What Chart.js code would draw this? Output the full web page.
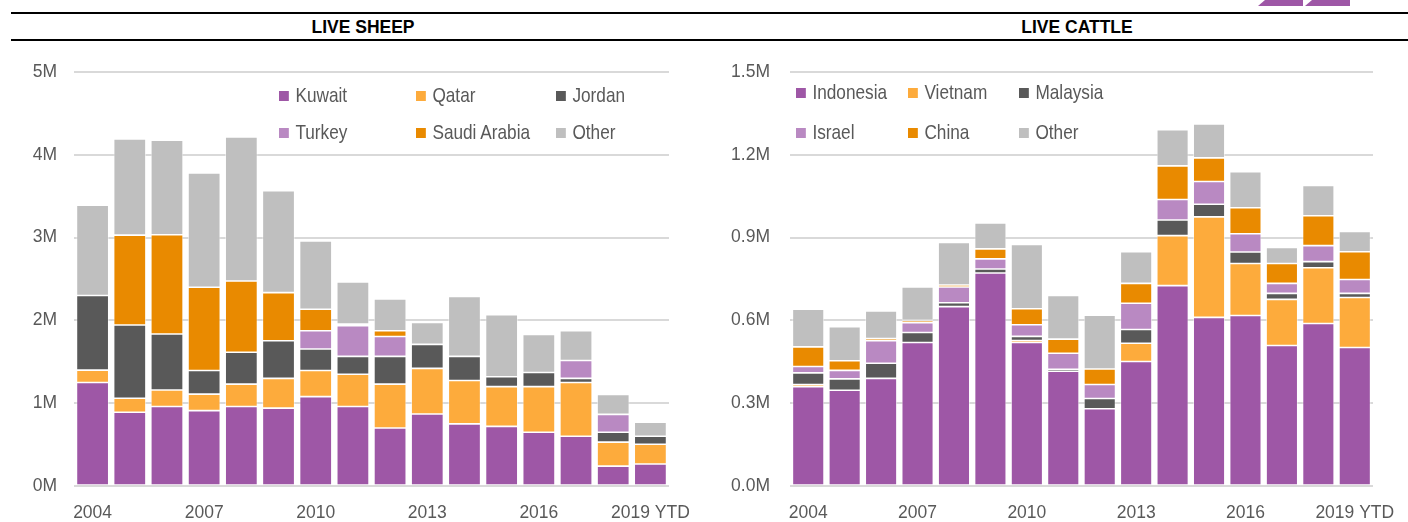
<!DOCTYPE html>
<html>
<head>
<meta charset="utf-8">
<script src="https://cdn.jsdelivr.net/npm/chart.js@4.4.1/dist/chart.umd.min.js"></script>
<style>
  body { margin: 0; background: #fff; width: 1408px; height: 522px; overflow: hidden; position: relative;
         font-family: 'Liberation Sans', Arial, sans-serif; }
  .rule { position: absolute; left: 11px; right: 0; height: 2px; background: #000; }
  .title { position: absolute; top: 17px; font-weight: bold; font-size: 17.5px; color: #000; text-align: center; width: 300px; }
  .logo { position: absolute; top: 0; height: 6px; width: 45px; background: #9e57a6;
          clip-path: polygon(7px 0, 45px 0, 45px 6px, 0 6px); }
  .box { position: absolute; top: 0; width: 704px; height: 522px; }
  .legend { position: absolute; font-size: 21px; color: #595959; }
  .legend .item { position: absolute; white-space: nowrap; line-height: 24px; transform: scaleX(0.82); transform-origin: 0 50%; }
  .legend .sq { display: inline-block; width: 12px; height: 10px; margin-right: 8px; vertical-align: 1px; }
</style>
</head>
<body>
<div class="logo" style="left:1258px"></div>
<div class="logo" style="left:1305px"></div>
<div class="rule" style="top:12px"></div>
<div class="rule" style="top:39px"></div>
<div class="title" style="left:213px">LIVE SHEEP</div>
<div class="title" style="left:927px">LIVE CATTLE</div>

<div class="box" style="left:0"><canvas id="sheepChart" width="704" height="522"></canvas></div>
<div class="box" style="left:704px"><canvas id="cattleChart" width="704" height="522"></canvas></div>
<div class="legend" id="sheepLegend"></div>
<div class="legend" id="cattleLegend"></div>

<script>
const years = ['2004', '2005', '2006', '2007', '2008', '2009', '2010', '2011', '2012', '2013', '2014', '2015', '2016', '2017', '2018', '2019 YTD'];

// live sheep, millions of head
const kuwait = [1.25, 0.89, 0.96, 0.91, 0.96, 0.94, 1.08, 0.96, 0.70, 0.87, 0.75, 0.72, 0.65, 0.60, 0.24, 0.265];
const qatar = [0.15, 0.17, 0.20, 0.20, 0.27, 0.36, 0.315, 0.39, 0.53, 0.55, 0.525, 0.48, 0.55, 0.65, 0.29, 0.24];
const jordan = [0.90, 0.885, 0.675, 0.285, 0.385, 0.455, 0.26, 0.215, 0.335, 0.29, 0.29, 0.12, 0.17, 0.05, 0.12, 0.095];
const turkey = [0, 0, 0, 0, 0, 0, 0.22, 0.37, 0.24, 0, 0, 0, 0, 0.215, 0.215, 0];
const saudi = [0, 1.085, 1.20, 1.005, 0.86, 0.58, 0.26, 0.02, 0.07, 0, 0, 0, 0, 0, 0, 0];
const sheepOther = [1.09, 1.16, 1.14, 1.38, 1.74, 1.23, 0.825, 0.51, 0.385, 0.265, 0.725, 0.75, 0.46, 0.36, 0.24, 0.17];

// live cattle, millions of head
const indonesia = [0.36, 0.347, 0.39, 0.52, 0.65, 0.772, 0.52, 0.416, 0.28, 0.451, 0.726, 0.611, 0.618, 0.509, 0.589, 0.502];
const vietnam = [0.008, 0, 0, 0, 0, 0, 0.007, 0, 0, 0.066, 0.181, 0.364, 0.188, 0.167, 0.202, 0.181];
const malaysia = [0.042, 0.041, 0.055, 0.036, 0.014, 0.014, 0.015, 0.007, 0.037, 0.05, 0.057, 0.046, 0.042, 0.022, 0.022, 0.015];
const israel = [0.023, 0.031, 0.081, 0.036, 0.057, 0.037, 0.042, 0.058, 0.051, 0.095, 0.074, 0.082, 0.066, 0.036, 0.058, 0.05];
const china = [0.071, 0.035, 0.008, 0.008, 0.007, 0.036, 0.058, 0.051, 0.056, 0.072, 0.122, 0.086, 0.094, 0.072, 0.108, 0.101];
const cattleOther = [0.137, 0.123, 0.10, 0.121, 0.154, 0.094, 0.233, 0.158, 0.195, 0.115, 0.131, 0.123, 0.131, 0.058, 0.11, 0.073];

const colors = ['#9e57a6', '#fdab3c', '#595959', '#b989c2', '#e98a00', '#bfbfbf'];
const FONT = "'Liberation Sans', Arial, sans-serif";

function makeChart(id, names, series, maxY, step, fmt, yAxisWidth, labelPad) {
    const datasets = names.map((name, i) => ({
        label: name,
        data: series[i],
        backgroundColor: colors[i],
        borderColor: 'rgba(255,255,255,0.7)',
        borderWidth: 0.8,
        borderSkipped: false,
        categoryPercentage: 1,
        barPercentage: 0.87
    }));
    return new Chart(document.getElementById(id), {
        type: 'bar',
        data: { labels: years, datasets: datasets },
        options: {
            responsive: false,
            animation: false,
            layout: { padding: { top: 72, right: 35, bottom: 0, left: 0 } },
            plugins: { legend: { display: false }, tooltip: { enabled: false } },
            scales: {
                x: {
                    stacked: true,
                    grid: { display: false },
                    border: { display: false },
                    ticks: {
                        autoSkip: false, maxRotation: 0, color: '#595959', padding: 9,
                        font: { family: FONT, size: 17.5 },
                        callback: (v, i) => i % 3 === 0 ? years[i] : ''
                    },
                    afterFit: s => { s.height = 36; }
                },
                y: {
                    stacked: true, min: 0, max: maxY,
                    grid: { color: '#d9d9d9', lineWidth: 2, drawTicks: false },
                    border: { display: false },
                    ticks: {
                        stepSize: step, color: '#595959', padding: labelPad,
                        font: { family: FONT, size: 17.5 },
                        callback: v => fmt(v)
                    },
                    afterFit: s => { s.width = yAxisWidth; }
                }
            }
        }
    });
}

function makeLegend(id, names, left, cols, rows) {
    const el = document.getElementById(id);
    names.forEach((name, i) => {
        const item = document.createElement('div');
        item.className = 'item';
        item.style.left = (left + cols[i % 3]) + 'px';
        item.style.top = (rows[Math.floor(i / 3)] - 12) + 'px';
        item.innerHTML = `<span class="sq" style="background:${colors[i]}"></span>${name}`;
        el.appendChild(item);
    });
}

const sheepNames = ['Kuwait', 'Qatar', 'Jordan', 'Turkey', 'Saudi Arabia', 'Other'];
const cattleNames = ['Indonesia', 'Vietnam', 'Malaysia', 'Israel', 'China', 'Other'];

makeChart('sheepChart', sheepNames, [kuwait, qatar, jordan, turkey, saudi, sheepOther], 5, 1, v => v + 'M', 74, 17);
makeChart('cattleChart', cattleNames, [indonesia, vietnam, malaysia, israel, china, cattleOther], 1.5, 0.3, v => v.toFixed(1) + 'M', 86, 20);

makeLegend('sheepLegend', sheepNames, 279, [0, 137, 277], [95, 132]);
makeLegend('cattleLegend', cattleNames, 796, [0, 112, 223], [92, 132]);
</script>
</body>
</html>
